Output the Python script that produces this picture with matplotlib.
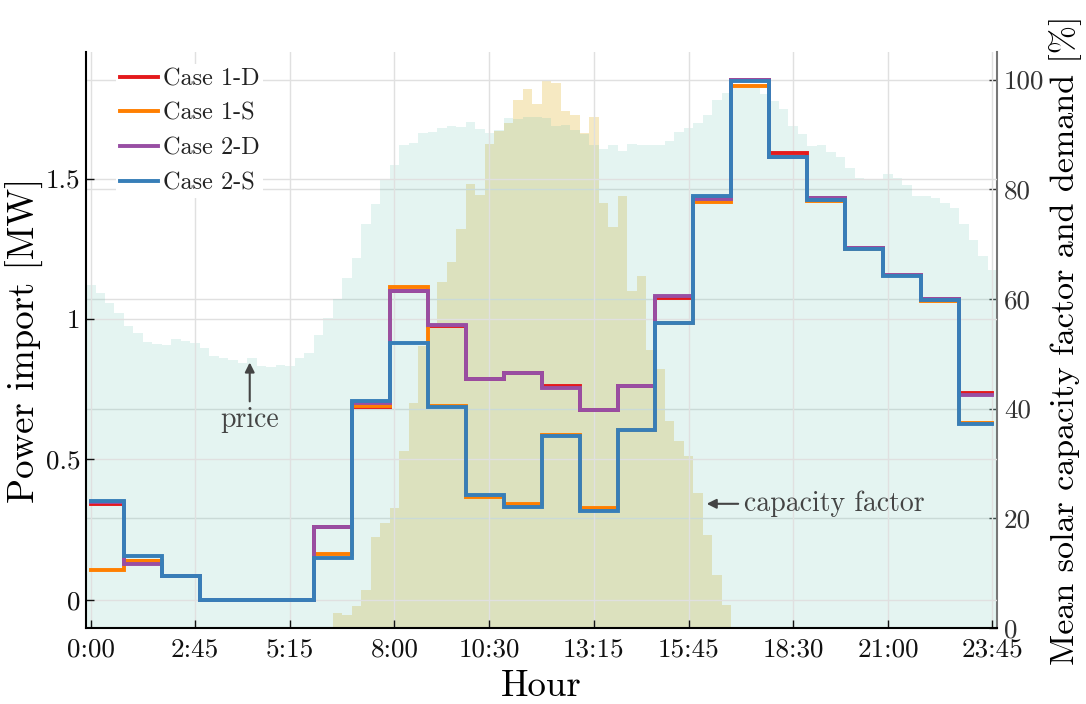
import numpy as np
import matplotlib.pyplot as plt

plt.rcParams['font.family'] = ['cmr10', 'DejaVu Serif']
plt.rcParams['mathtext.fontset'] = 'cm'
plt.rcParams['axes.formatter.use_mathtext'] = True

# datos: importacion horaria [MW] por caso
case_1d = [0.34, 0.14, 0.085, 0, 0, 0, 0.26, 0.688, 1.10, 0.975, 0.786, 0.807,
           0.762, 0.676, 0.762, 1.074, 1.43, 1.85, 1.59, 1.43, 1.252, 1.157, 1.07, 0.735]
case_1s = [0.105, 0.14, 0.085, 0, 0, 0, 0.163, 0.69, 1.114, 0.69, 0.368, 0.34,
           0.588, 0.328, 0.605, 0.987, 1.415, 1.83, 1.578, 1.42, 1.25, 1.155, 1.065, 0.631]
case_2d = [0.35, 0.128, 0.085, 0, 0, 0, 0.26, 0.70, 1.10, 0.979, 0.786, 0.807,
           0.754, 0.676, 0.762, 1.082, 1.427, 1.85, 1.578, 1.43, 1.252, 1.157, 1.07, 0.73]
case_2s = [0.352, 0.157, 0.085, 0, 0, 0, 0.15, 0.708, 0.914, 0.687, 0.374, 0.332,
           0.585, 0.317, 0.605, 0.986, 1.438, 1.847, 1.578, 1.424, 1.25, 1.154, 1.068, 0.626]

# precio (escalado, %) cada 15 min
price = [62.6, 61.1, 59.2, 57.5, 55.0, 53.8, 52.1, 51.8, 51.6, 52.7, 52.4, 51.9,
         51.0, 49.5, 49.2, 48.9, 48.4, 49.2, 47.8, 47.6, 48.0, 47.8, 49.2, 50.1,
         53.5, 56.5, 59.9, 63.8, 67.5, 73.6, 77.3, 81.8, 84.4, 88.1, 88.4, 90.2,
         90.4, 91.2, 91.6, 91.3, 92.3, 90.9, 90.3, 90.8, 93.0, 92.8, 93.2, 93.2,
         93.0, 91.5, 91.7, 90.8, 90.1, 88.1, 87.4, 88.0, 86.9, 88.3, 88.1, 88.0,
         88.0, 88.8, 90.4, 91.2, 92.0, 93.5, 96.2, 97.6, 98.5, 98.7, 98.5, 97.3,
         96.0, 94.7, 91.6, 90.1, 87.8, 88.0, 86.7, 85.9, 83.9, 82.1, 81.6, 81.9,
         82.8, 82.1, 80.7, 78.8, 78.7, 78.4, 77.4, 76.6, 73.7, 70.8, 67.9, 65.2]

# factor de capacidad solar medio (%) cada 15 min
capacity = [0] * 26 + [2.7, 2.4, 4.0, 6.9, 16.5, 19.1, 21.9, 32.2, 41.1, 51.5,
                       55.0, 63.0, 66.7, 72.7, 81.0, 78.9, 88.3, 90.6, 92.0, 96.2,
                       98.3, 95.6, 100.0, 99.3, 94.2, 93.6, 90.3, 93.2, 77.4, 73.1,
                       78.8, 61.5, 64.2, 50.6, 47.2, 37.8, 34.1, 31.4, 24.6, 16.9,
                       9.7, 4.2] + [0] * 28

xtick_labels = ["0:00", "2:45", "5:15", "8:00", "10:30", "13:15", "15:45", "18:30", "21:00", "23:45"]
ytick_left = [0, 0.5, 1, 1.5]
ytick_left_labels = ["0", "0.5", "1", "1.5"]
ytick_right = [0, 20, 40, 60, 80, 100]

casos = [("Case 1-D", case_1d, "#e41a1c"),
         ("Case 1-S", case_1s, "#ff7f00"),
         ("Case 2-D", case_2d, "#984ea3"),
         ("Case 2-S", case_2s, "#377eb8")]

n = len(price)
idx = np.arange(n)
edges = np.arange(n + 1) - 0.5
xtick_pos = [(int(s.split(':')[0]) * 60 + int(s.split(':')[1])) / 15 for s in xtick_labels]

fig = plt.figure(figsize=(10.86, 7.04), dpi=100)
ax = fig.add_axes([0.0792, 0.108, 0.839, 0.818])
ax2 = ax.twinx()

## barras de fondo
ax2.stairs(capacity, edges, fill=True, color="#f6e9c2", lw=0, zorder=1)
ax2.stairs(price, edges, fill=True, color="#60beae", alpha=0.17, lw=0, zorder=2)
ax2.set_ylim(0, 105)
ax2.set_yticks(ytick_right)
ax2.set_yticklabels([str(v) for v in ytick_right])
ax2.grid(True, axis='y', color="#e0e0e0", lw=1)
ax2.tick_params(axis='y', direction='in', length=6, width=1, colors="#333333",
                labelsize=19.5, pad=5)
ax2.set_ylabel("Mean solar capacity factor and demand [%]", fontsize=24.5, labelpad=3)
for s in ["top", "left", "bottom"]:
    ax2.spines[s].set_visible(False)
ax2.spines["right"].set_color("#777777")
ax2.spines["right"].set_linewidth(1.5)

## lineas de importacion
ax.set_zorder(ax2.get_zorder() + 1)
ax.patch.set_visible(False)
for lab, vals, col in casos:
    ax.plot(idx, np.repeat(vals, n // len(vals)), drawstyle='steps-mid', color=col,
            lw=2.8, label=lab, solid_joinstyle='miter')

ax.set_xlim(-0.5, n - 0.5)
ax.set_ylim(-0.1, 1.95)
ax.set_xticks(xtick_pos)
ax.set_xticklabels(xtick_labels)
ax.set_yticks(ytick_left)
ax.set_yticklabels(ytick_left_labels)
ax.grid(True, color="#e0e0e0", lw=1)
ax.tick_params(direction='in', length=6, width=1, labelsize=19.5, colors="#111111")
ax.tick_params(axis='x', pad=7)
ax.tick_params(axis='y', pad=4)
ax.set_xlabel("Hour", fontsize=26.5, labelpad=6)
ax.set_ylabel("Power import [MW]", fontsize=26.5, labelpad=1)
ax.spines["top"].set_visible(False)
ax.spines["right"].set_visible(False)
ax.spines["left"].set_linewidth(1.5)
ax.spines["bottom"].set_linewidth(1.5)

ax.annotate("price", xy=(16.75, 0.855), xytext=(16.75, 0.64), fontsize=20,
            color="#444444", ha='center', va='center',
            arrowprops=dict(arrowstyle='-|>', color="#444444", lw=1.5, mutation_scale=14))
ax.annotate("capacity factor", xy=(64.6, 0.342), xytext=(68.8, 0.342), fontsize=20,
            color="#444444", ha='left', va='center',
            arrowprops=dict(arrowstyle='-|>', color="#444444", lw=1.5, mutation_scale=14))

leg = ax.legend(loc='upper left', bbox_to_anchor=(0.02, 1.0), fontsize=17.5,
                handlelength=1.55, handletextpad=0.22, labelspacing=0.52,
                frameon=True, framealpha=1, edgecolor='none', borderpad=0.15)
for t in leg.get_texts():
    t.set_color("#222222")

plt.savefig("out.png", dpi=100)
